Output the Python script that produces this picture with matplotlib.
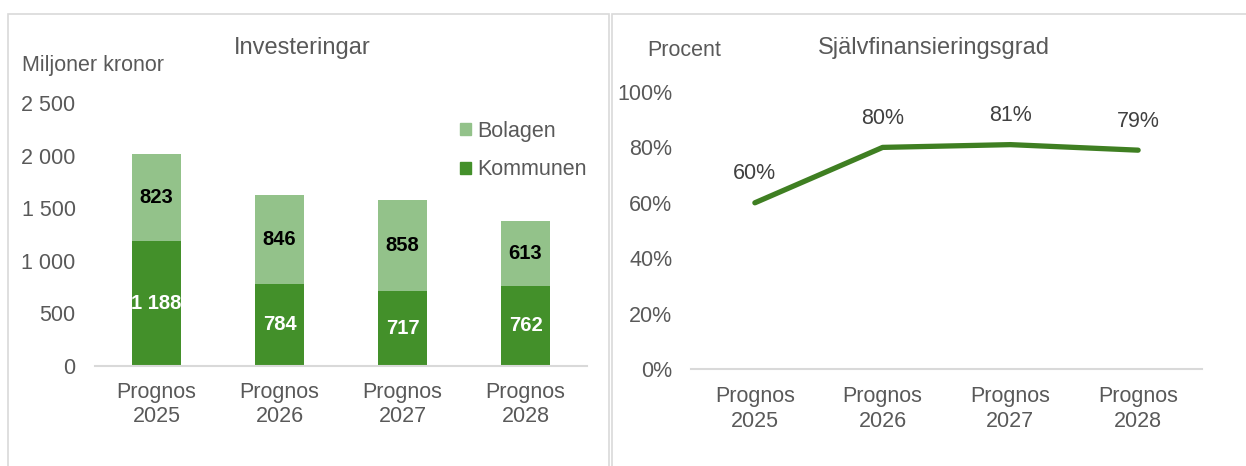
import matplotlib
matplotlib.use("Agg")
import matplotlib.pyplot as plt
from matplotlib.patches import Rectangle, Patch
from matplotlib.ticker import FuncFormatter

plt.rcParams["font.family"] = ["Liberation Sans", "DejaVu Sans"]

years = ["Prognos\n2025", "Prognos\n2026", "Prognos\n2027", "Prognos\n2028"]
kommunen = [1188, 784, 717, 762]
bolagen = [823, 846, 858, 613]
selvfin = [60, 80, 81, 79]

dark_green = "#43902a"
light_green = "#93c28a"
line_green = "#3f7f22"
text_gray = "#595959"
axis_gray = "#d9d9d9"

W, H = 1246, 466
fig = plt.figure(figsize=(W / 100, H / 100), dpi=100)


def fx(px):
    return px / W


def fy(py):
    return 1 - py / H


def space_fmt(v, pos):
    return f"{int(v):,}".replace(",", " ")


# panel borders
fig.add_artist(Rectangle((fx(8), fy(470)), fx(601), fy(14) - fy(470),
                         transform=fig.transFigure, fill=False,
                         edgecolor=axis_gray, linewidth=1.2))
fig.add_artist(Rectangle((fx(612), fy(470)), fx(640), fy(14) - fy(470),
                         transform=fig.transFigure, fill=False,
                         edgecolor=axis_gray, linewidth=1.2))

# left chart: investments
ax1 = fig.add_axes([fx(95), fy(366), fx(492), fy(103) - fy(366)])
x = range(len(years))
ax1.bar(x, kommunen, width=0.4, color=dark_green, label="Kommunen")
ax1.bar(x, bolagen, width=0.4, bottom=kommunen, color=light_green, label="Bolagen")
for i in x:
    ax1.text(i, kommunen[i] / 2, space_fmt(kommunen[i], None), ha="center", va="center",
             color="white", fontsize=14.5, fontweight="bold")
    ax1.text(i, kommunen[i] + bolagen[i] / 2, space_fmt(bolagen[i], None), ha="center",
             va="center", color="black", fontsize=14.5, fontweight="bold")
ax1.set_xlim(-0.5, 3.5)
ax1.set_ylim(0, 2500)
ax1.set_yticks(range(0, 2501, 500))
ax1.yaxis.set_major_formatter(FuncFormatter(space_fmt))
ax1.set_xticks(list(x))
ax1.set_xticklabels(years)

handles = [Patch(color=light_green), Patch(color=dark_green)]
ax1.legend(handles, ["Bolagen", "Kommunen"], loc="upper left",
           bbox_to_anchor=(fx(449), fy(110)), bbox_transform=fig.transFigure,
           frameon=False, fontsize=15.5, handlelength=0.5, handleheight=0.5,
           handletextpad=0.3, labelspacing=0.82, labelcolor=text_gray, borderpad=0)

fig.text(fx(302), fy(48), "Investeringar", ha="center", va="center",
         fontsize=17, color=text_gray)
fig.text(fx(22), fy(66), "Miljoner kronor", ha="left", va="center",
         fontsize=15.5, color=text_gray)

# right chart: self-financing rate
ax2 = fig.add_axes([fx(691), fy(369), fx(511), fy(92) - fy(369)])
ax2.plot(list(x), selvfin, color=line_green, linewidth=3.8, solid_capstyle="round")
for i in x:
    ax2.annotate(f"{selvfin[i]}%", (i, selvfin[i]), xytext=(0, 21),
                 textcoords="offset points", ha="center", va="center",
                 fontsize=15.5, color="#404040")
ax2.set_xlim(-0.5, 3.5)
ax2.set_ylim(0, 100)
ax2.set_yticks(range(0, 101, 20))
ax2.yaxis.set_major_formatter(FuncFormatter(lambda v, p: f"{int(v)}%"))
ax2.set_xticks(list(x))
ax2.set_xticklabels(years)

fig.text(fx(934), fy(48), "Självfinansieringsgrad", ha="center", va="center",
         fontsize=17, color=text_gray)
fig.text(fx(647), fy(51), "Procent", ha="left", va="center",
         fontsize=15.5, color=text_gray)

for ax, xpad, ypad in ((ax1, 11.5, 14), (ax2, 12.5, 13.5)):
    for side in ("top", "right", "left"):
        ax.spines[side].set_visible(False)
    ax.spines["bottom"].set_color(axis_gray)
    ax.spines["bottom"].set_linewidth(1.5)
    ax.tick_params(axis="both", length=0, labelsize=15.5, labelcolor=text_gray)
    ax.tick_params(axis="x", pad=xpad)
    ax.tick_params(axis="y", pad=ypad)
    ax.set_facecolor("none")

fig.savefig("out.png", dpi=100)
